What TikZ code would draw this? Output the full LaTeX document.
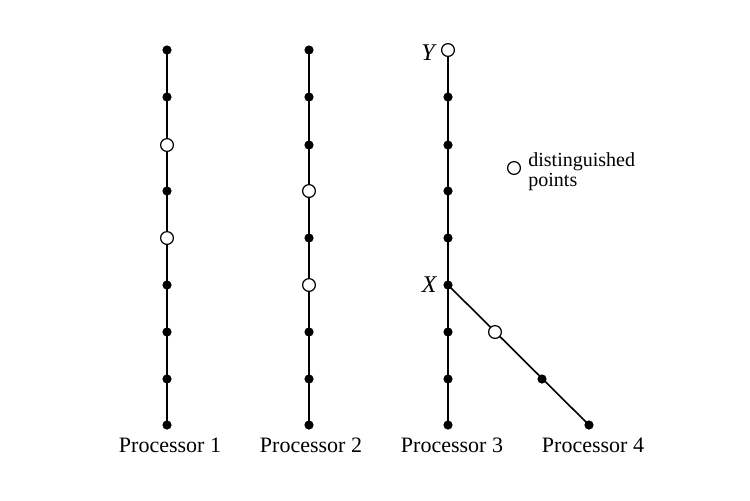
\documentclass[tikz,border=0pt]{standalone}
\usepackage{fontspec}
\setmainfont{Liberation Serif}
\begin{document}
\begin{tikzpicture}[x=0.5pt,y=-0.5pt,
  dot/.style={circle,fill=black,inner sep=0pt,minimum size=4.6pt},
  odot/.style={circle,draw=black,fill=white,line width=0.6pt,inner sep=0pt,minimum size=6.4pt},
  proc/.style={line width=0.8pt},
  lab/.style={font=\fontsize{11}{13}\selectfont,inner sep=0pt},
  pt/.style={font=\fontsize{12}{13}\selectfont\itshape,inner sep=0pt,anchor=east},
  leg/.style={font=\fontsize{10}{10}\selectfont,align=left,inner sep=0pt}]
\useasboundingbox (0,0) rectangle (750,500);
\foreach \i/\y in {0/50,1/97,2/145,3/191,4/238,5/285,6/332,7/379,8/425}{\coordinate (a\i) at (167,\y);}
\foreach \i/\y in {0/50,1/97,2/145,3/191,4/238,5/285,6/332,7/379,8/425}{\coordinate (b\i) at (309,\y);}
\foreach \i/\y in {0/50,1/97,2/145,3/191,4/238,5/285,6/332,7/379,8/425}{\coordinate (c\i) at (448,\y);}
\coordinate (d1) at (495,332);
\coordinate (d2) at (542,379);
\coordinate (d3) at (589,425);
\draw[proc] (a0) -- (a8);
\draw[proc] (b0) -- (b8);
\draw[proc] (c0) -- (c8);
\draw[proc] (c5) -- (d3);
\foreach \i in {0,1,3,5,6,7,8}{\node[dot] at (a\i) {};}
\foreach \i in {2,4}{\node[odot] at (a\i) {};}
\foreach \i in {0,1,2,4,6,7,8}{\node[dot] at (b\i) {};}
\foreach \i in {3,5}{\node[odot] at (b\i) {};}
\foreach \i in {1,2,3,4,5,6,7,8}{\node[dot] at (c\i) {};}
\node[odot] (Yp) at (c0) {};
\node[odot] (D1) at (d1) {};
\node[dot] (D2) at (d2) {};
\node[dot] (D3) at (d3) {};
\node[pt] (Y) at (435,53) {Y};
\node[pt] (X) at (437,285) {X};
% legend
\node[odot] (L) at (514,168) {};
\node[leg,anchor=north west] (Lt) at (528,152) {distinguished\\points};
% labels
\node[lab] (P1) at (170,445) {Processor 1};
\node[lab] (P2) at (311,445) {Processor 2};
\node[lab] (P3) at (452,445) {Processor 3};
\node[lab] (P4) at (593,445) {Processor 4};
\end{tikzpicture}
\end{document}
